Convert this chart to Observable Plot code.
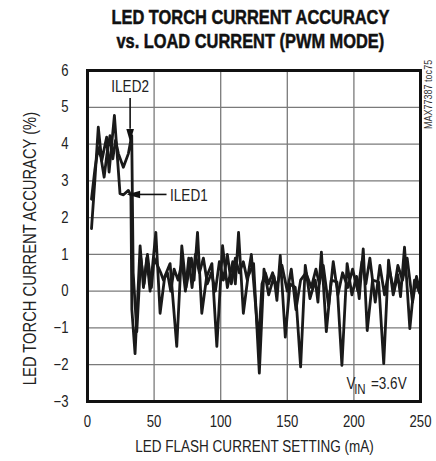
<!DOCTYPE html>
<html><head><meta charset="utf-8">
<script src="https://cdn.jsdelivr.net/npm/d3@7"></script>
<script src="https://cdn.jsdelivr.net/npm/@observablehq/plot@0.6"></script>
<style>
body{margin:0;background:#fff;width:436px;height:461px;overflow:hidden;font-family:"Liberation Sans",Arial,sans-serif;color:#222;}
#title{height:60px;box-sizing:border-box;padding-left:64px;padding-top:5px;text-align:center;font-weight:bold;font-size:20px;line-height:24px;color:#111;-webkit-text-stroke:0.5px #111;}
#title div span{display:inline-block;transform:scaleX(0.82);transform-origin:50% 50%;white-space:nowrap;}
#chart svg{display:block;}
</style></head><body>
<div id="title"><div><span>LED TORCH CURRENT ACCURACY</span></div><div><span>vs. LOAD CURRENT (PWM MODE)</span></div></div>
<div id="chart"></div>
<script>
const xTicks = [0, 50, 100, 150, 200, 250];
const yTicks = [-3, -2, -1, 0, 1, 2, 3, 4, 5, 6];

const iled1X = [3, 5.5, 8.1, 10.7, 14.4, 16.2, 20.2, 24.4, 27, 30.7, 32.6, 33.3, 35.7, 39.5, 42, 44.5, 47, 51.3, 54.5, 58, 62, 67, 70.8, 74, 78, 80, 82.6, 85.8, 89.5, 93.4, 97.1, 101.4, 105, 109, 111, 113.4, 117, 120.5, 124.7, 129, 132.5, 136, 140, 142.2, 144.7, 148.5, 152, 156, 160, 163.5, 167, 171, 173, 175.6, 179.3, 183, 187.3, 191, 194.9, 198.5, 202, 204, 207, 210, 214, 218.6, 222.4, 226, 229.5, 233, 235, 238, 242, 245.5, 249.5];
const iled1Y = [1.7, 3.0, 4.46, 3.55, 4.19, 3.24, 4.78, 2.65, 2.62, 2.74, 2.6, -0.5, -1.7, 1.23, 0.1, 0.9, 0.0, 1.6, -0.6, 0.4, 0.75, -1.5, 1.23, 0.1, 0.9, 0.3, 1.6, -0.6, 0.4, 0.75, -1.5, 1.24, 0.1, 0.8, 0.2, 1.6, -0.6, 0.4, 0.75, -2.23, 0.6, -0.1, 0.4, -0.25, 0.97, -1.25, 0.2, 0.1, -2.06, 0.7, -0.2, 0.3, -0.3, 1.06, -1.1, 0.3, 0.25, -2.02, 0.75, -0.1, 0.4, -0.2, 1.15, -1.07, 0.3, 0.25, -1.97, 0.84, -0.1, 0.45, -0.15, 1.2, -1.02, 0.3, -0.06];

const iled2X = [3, 5.5, 8, 10.1, 12.5, 14.5, 16.9, 19, 21, 23.2, 26.9, 30.7, 33.2, 34.3, 37, 40, 42.5, 45, 48, 50, 52.5, 55, 57, 60, 62.5, 65, 68, 71, 73.5, 76, 78.5, 81, 84, 87, 90, 93, 96, 99, 102, 105, 108, 111, 114, 117, 120, 123, 126, 128.5, 131, 133.5, 136, 139, 142, 146, 150, 153, 156.5, 160, 164, 168, 171.5, 174, 177, 181, 184.5, 188, 191.5, 195.5, 199, 203, 206, 209, 212, 216, 219.5, 223, 226.5, 230, 233, 236.5, 240, 244, 247, 250];
const iled2Y = [2.5, 3.3, 3.9, 3.64, 3.1, 3.7, 4.23, 3.6, 4.1, 3.74, 3.37, 3.74, 4.23, 0.5, -1.1, 0.9, 0.2, 1.0, 0.1, 0.9, 0.7, 0.5, 0.3, 0.5, 0.0, 0.6, 0.3, 0.8, 0.0, 0.9, 0.1, 1.0, 0.5, 0.9, 0.2, 0.5, 0.0, 0.8, 0.3, 1.0, 0.2, 0.9, 0.5, 0.8, 0.3, 1.0, -0.3, -1.4, 0.2, 0.5, 0.2, 0.5, 0.1, 0.7, 0.0, 0.6, -0.5, 0.3, 0.5, 0.1, 0.6, 0.2, 0.7, -0.4, 0.8, -0.1, 0.5, 0.1, 0.6, 0.0, 0.8, 0.2, 0.9, -0.3, 0.7, -0.1, 0.6, 0.0, 0.7, 0.3, 0.9, -0.3, 0.4, -0.1];

const seriesNames = ["ILED1", "ILED2"];
const rows = [
  ...iled1X.map((x, i) => ({series: seriesNames[0], x, y: iled1Y[i]})),
  ...iled2X.map((x, i) => ({series: seriesNames[1], x, y: iled2Y[i]}))
];

const arrowHead = {
  draw(ctx) {
    ctx.moveTo(0, 6.7);
    ctx.lineTo(-3.8, -6.7);
    ctx.lineTo(3.8, -6.7);
    ctx.closePath();
  }
};

const FONT = '"Liberation Sans",Arial,sans-serif';

const chart = Plot.plot({
  width: 436,
  height: 401,
  marginLeft: 87,
  marginRight: 16,
  marginTop: 10,
  marginBottom: 60,
  style: {fontSize: "16px", fontFamily: FONT, color: "#222", background: "#fff"},
  x: {domain: [0, 250], ticks: xTicks, tickSize: 0, tickPadding: 14, label: null},
  y: {domain: [-3, 6], ticks: yTicks, tickSize: 0, tickPadding: 19, label: null},
  marks: [
    Plot.gridX(xTicks, {stroke: "#7a7a7a", strokeOpacity: 1, strokeWidth: 1.3}),
    Plot.gridY(yTicks, {stroke: "#7a7a7a", strokeOpacity: 1, strokeWidth: 1.3}),
    Plot.line(rows, {x: "x", y: "y", z: "series", stroke: "#1a1a1a", strokeWidth: 2.8, strokeLinejoin: "round", strokeLinecap: "round"}),
    // ILED2 annotation
    Plot.text(["ILED2"], {x: 32, y: 5.57, text: d => d, fontSize: 16.5, fill: "#222"}),
    Plot.ruleX([32], {y1: 5.24, y2: 4.4, stroke: "#111", strokeWidth: 1.6}),
    Plot.dot([0], {x: 32, y: 4.23, symbol: arrowHead, fill: "#111", stroke: "none", r: 5}),
    // ILED1 annotation
    Plot.ruleY([2.63], {x1: 39.4, x2: 59.7, stroke: "#111", strokeWidth: 1.6}),
    Plot.dot([0], {x: 34.5, y: 2.63, symbol: arrowHead, rotate: 90, fill: "#111", stroke: "none", r: 5}),
    Plot.text(["ILED1"], {x: 62, y: 2.6, text: d => d, textAnchor: "start", fontSize: 16.5, fill: "#222"}),
    // VIN label
    Plot.text(["V"], {x: 194.4, y: -2.66, text: d => d, textAnchor: "start", lineAnchor: "bottom", fontSize: 16.5, fill: "#222"}),
    Plot.text(["IN"], {x: 200.2, y: -2.8, text: d => d, textAnchor: "start", lineAnchor: "bottom", fontSize: 14, fill: "#222"}),
    Plot.text(["=3.6V"], {x: 212.8, y: -2.66, text: d => d, textAnchor: "start", lineAnchor: "bottom", fontSize: 16.5, fill: "#222"}),
    // axis titles
    Plot.text(["LED TORCH CURRENT ACCURACY (%)"], {frameAnchor: "left", y: 1.16, dx: -57, rotate: -90, textAnchor: "middle", lineAnchor: "middle", text: d => d, fontSize: 18, fill: "#222", ariaLabel: "ytitle"}),
    Plot.text(["LED FLASH CURRENT SETTING (mA)"], {frameAnchor: "bottom", x: 125.4, dy: 50, textAnchor: "middle", text: d => d, fontSize: 16.5, fill: "#222", ariaLabel: "xtitle"}),
    Plot.text(["MAX77387 toc75"], {frameAnchor: "right", y: 5.35, dx: 8, rotate: -90, textAnchor: "middle", lineAnchor: "middle", text: d => d, fontSize: 11, fill: "#333", ariaLabel: "code"}),
    Plot.frame({stroke: "#111", strokeWidth: 3})
  ]
});
document.getElementById("chart").appendChild(chart);

// condensed look: squeeze every text along its own direction
d3.select(chart).selectAll("text").each(function () {
  const label = this.parentNode.getAttribute("aria-label");
  const s = label === "ytitle" ? 0.92 : label === "code" ? 0.88 : 0.82;
  const t = this.getAttribute("transform");
  if (t) {
    this.setAttribute("transform", t + ` scale(${s},1)`);
  } else {
    const x = +this.getAttribute("x") || 0, y = +this.getAttribute("y") || 0;
    this.removeAttribute("x");
    this.removeAttribute("y");
    this.setAttribute("transform", `translate(${x},${y}) scale(${s},1)`);
  }
});
</script>
</body></html>
